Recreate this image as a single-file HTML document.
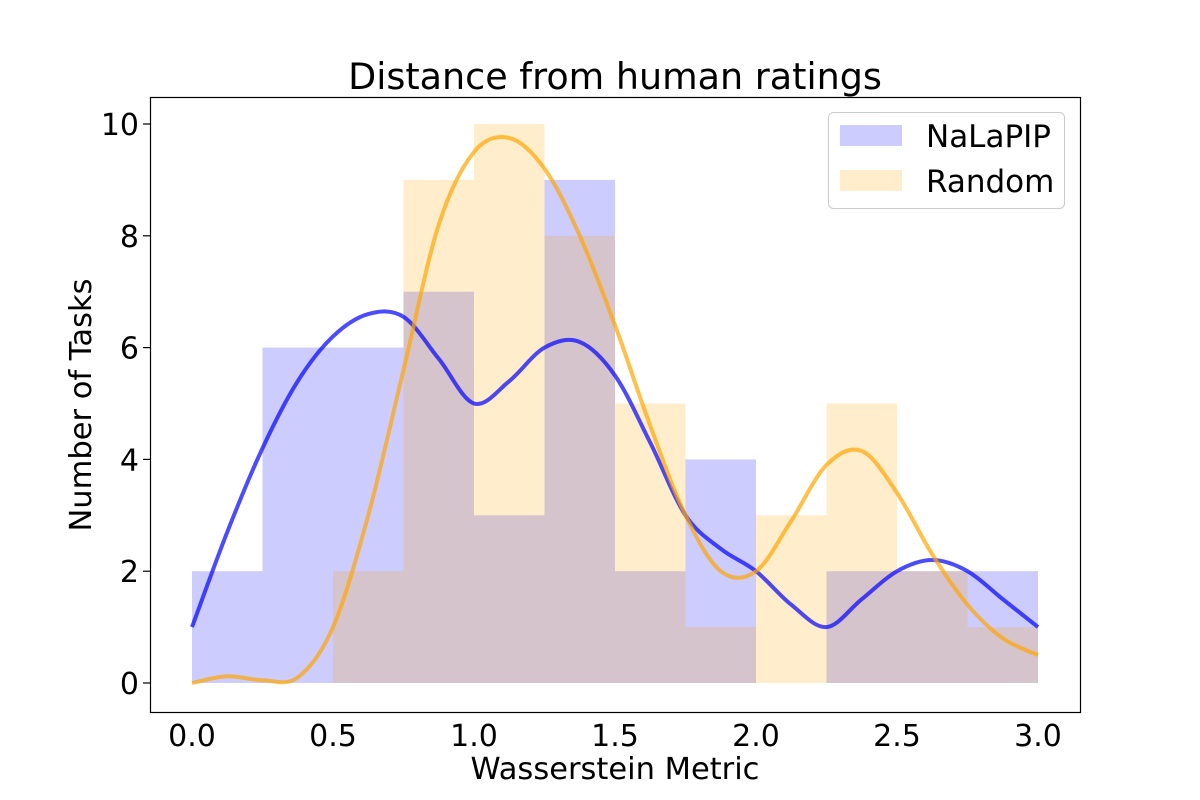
<!DOCTYPE html>
<html><head><meta charset="utf-8"><style>
body{margin:0;background:#fff}
text{font-family:"DejaVu Sans","Liberation Sans",sans-serif;fill:#000}
</style></head><body>
<svg id="chart" width="1200" height="800" style="position:absolute;left:0;top:0"></svg>
<script>
const binEdges=[0,0.25,0.5,0.75,1.0,1.25,1.5,1.75,2.0,2.25,2.5,2.75,3.0];
const nalapipCounts=[2,6,6,7,3,9,2,4,0,2,2,2];
const randomCounts=[0,0,2,9,10,8,5,1,3,5,2,1];
const kdeX=[0,0.125,0.25,0.375,0.5,0.625,0.75,0.875,1.0,1.125,1.25,1.375,1.5,1.625,1.75,1.875,2.0,2.125,2.25,2.375,2.5,2.625,2.75,2.875,3.0];
const nalapipKde=[1.0,2.7,4.2,5.4,6.2,6.6,6.55,5.8,5.0,5.4,6.0,6.1,5.5,4.3,3.0,2.4,2.0,1.4,1.0,1.5,2.0,2.2,2.0,1.5,1.0];
const randomKde=[0,0.12,0.05,0.1,1.0,3.0,5.6,8.2,9.5,9.75,9.2,8.0,6.4,4.6,3.0,2.0,2.0,2.9,3.9,4.15,3.4,2.3,1.4,0.8,0.5];
const xTicks=[0,0.5,1.0,1.5,2.0,2.5,3.0];
const yTicks=[0,2,4,6,8,10];

const NS="http://www.w3.org/2000/svg";
const svg=document.getElementById('chart');
const X=v=>192+v*282;
const Y=v=>683-v*55.9;
function mk(tag,attrs,parent){const e=document.createElementNS(NS,tag);for(const k in attrs)e.setAttribute(k,attrs[k]);(parent||svg).appendChild(e);return e;}

function bars(counts,color,name){
  const g=mk('g',{});
  
  
  counts.forEach((c,i)=>{
    const r=mk('rect',{x:X(binEdges[i]),y:Y(c),width:X(binEdges[i+1])-X(binEdges[i]),height:Y(0)-Y(c),fill:color,'fill-opacity':0.2},g);
    
    
  });
}
bars(nalapipCounts,'#0000ff','nalapip-bars');
bars(randomCounts,'#ffa500','random-bars');

function curve(vals,color,name){
  const p=kdeX.map((x,i)=>[X(x),Y(vals[i])]);
  let d='M'+p[0][0]+','+p[0][1];
  for(let i=0;i<p.length-1;i++){
    const p0=p[Math.max(0,i-1)],p1=p[i],p2=p[i+1],p3=p[Math.min(p.length-1,i+2)];
    const c1=[p1[0]+(p2[0]-p0[0])/6,p1[1]+(p2[1]-p0[1])/6];
    const c2=[p2[0]-(p3[0]-p1[0])/6,p2[1]-(p3[1]-p1[1])/6];
    d+=` C${c1[0]},${c1[1]} ${c2[0]},${c2[1]} ${p2[0]},${p2[1]}`;
  }
  const e=mk('path',{d:d,fill:'none',stroke:color,'stroke-width':4,'stroke-opacity':0.7});
  
  
}
curve(nalapipKde,'#0000ff','nalapip-kde-line');
curve(randomKde,'#ffa500','random-kde-line');

const frame=mk('rect',{x:150.5,y:97.5,width:930,height:615,fill:'none',stroke:'#000','stroke-width':1.2});



xTicks.forEach(t=>{
  const tx=mk('text',{x:X(t),y:746,'font-size':30,'text-anchor':'middle'});
  tx.textContent=t.toFixed(1);
  
  
});
yTicks.forEach(t=>{
  mk('line',{x1:143,x2:150,y1:Y(t),y2:Y(t),stroke:'#000','stroke-width':1.2});
  const tx=mk('text',{x:139,y:Y(t)+11,'font-size':30,'text-anchor':'end'});
  tx.textContent=t;
  
  
});
</script>
<svg width="1200" height="800" style="position:absolute;left:0;top:0">
<text x="615" y="89" font-size="36.5" text-anchor="middle">Distance from human ratings</text>
<text x="615" y="779" font-size="30.5" text-anchor="middle">Wasserstein Metric</text>
<text x="0" y="0" font-size="30.5" text-anchor="middle" transform="translate(91,405) rotate(-90)">Number of Tasks</text>
<g>
<rect x="828.5" y="112.5" width="236" height="96" rx="5" fill="#fff" fill-opacity="0.8" stroke="#ccc"/>
<rect x="840" y="125" width="62" height="21" fill="#0000ff" fill-opacity="0.2"/>
<text x="926" y="147" font-size="31">NaLaPIP</text>
<rect x="840" y="170" width="62" height="21" fill="#ffa500" fill-opacity="0.2"/>
<text x="926" y="192" font-size="31">Random</text>
</g>
</svg>
</body></html>
